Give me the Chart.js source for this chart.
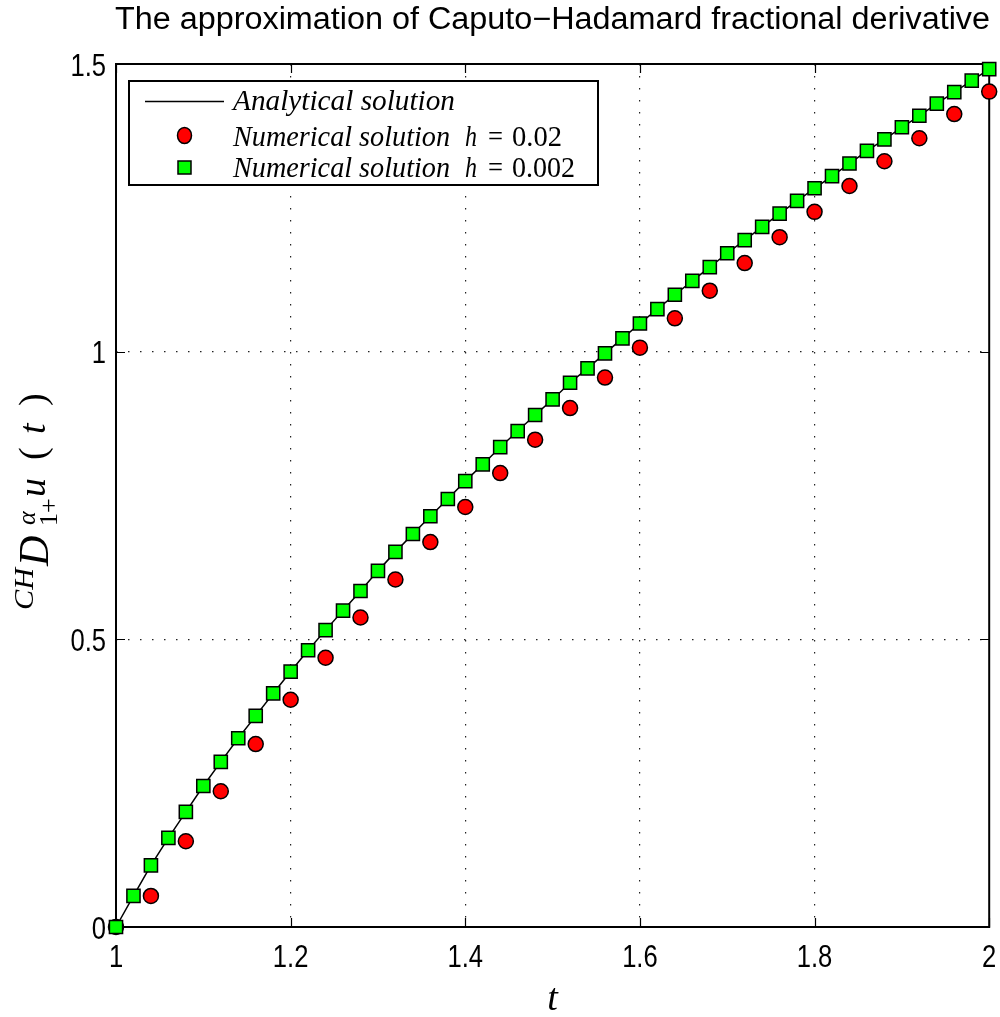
<!DOCTYPE html>
<html>
<head>
<meta charset="utf-8">
<script src="https://cdn.jsdelivr.net/npm/chart.js@4.4.0/dist/chart.umd.min.js"></script>
<style>
    body { margin: 0; background: #ffffff; }
    #wrap { width: 1000px; height: 1017px; }
</style>
</head>
<body>
<div id="wrap"><canvas id="chart" width="1000" height="1017"></canvas></div>
<script>
// 시간 t (h = 0.002 결과, 0.02 간격으로 표시)
const tFine = [1.00, 1.02, 1.04, 1.06, 1.08, 1.10, 1.12, 1.14, 1.16, 1.18,
    1.20, 1.22, 1.24, 1.26, 1.28, 1.30, 1.32, 1.34, 1.36, 1.38,
    1.40, 1.42, 1.44, 1.46, 1.48, 1.50, 1.52, 1.54, 1.56, 1.58,
    1.60, 1.62, 1.64, 1.66, 1.68, 1.70, 1.72, 1.74, 1.76, 1.78,
    1.80, 1.82, 1.84, 1.86, 1.88, 1.90, 1.92, 1.94, 1.96, 1.98, 2.00];
const uFine = [0.000, 0.054, 0.107, 0.155, 0.200, 0.245, 0.287, 0.328, 0.367, 0.406,
    0.444, 0.481, 0.516, 0.550, 0.584, 0.619, 0.652, 0.683, 0.714, 0.744,
    0.775, 0.804, 0.834, 0.862, 0.890, 0.917, 0.946, 0.971, 0.997, 1.023,
    1.049, 1.074, 1.099, 1.123, 1.147, 1.171, 1.194, 1.217, 1.240, 1.262,
    1.284, 1.305, 1.327, 1.349, 1.369, 1.390, 1.410, 1.431, 1.451, 1.471, 1.491];

// 해석해 (사각형 마커 위를 지나는 실선)
const tExact = tFine;
const uExact = [0.000, 0.054, 0.107, 0.155, 0.200, 0.245, 0.287, 0.328, 0.367, 0.406,
    0.444, 0.481, 0.516, 0.550, 0.584, 0.619, 0.652, 0.683, 0.714, 0.744,
    0.775, 0.804, 0.834, 0.862, 0.890, 0.917, 0.946, 0.971, 0.997, 1.023,
    1.049, 1.074, 1.099, 1.123, 1.147, 1.171, 1.194, 1.217, 1.240, 1.262,
    1.284, 1.305, 1.327, 1.349, 1.369, 1.390, 1.410, 1.431, 1.451, 1.471, 1.491];

// h = 0.02 결과 (0.04 간격으로 표시)
const tCoarse = [1.00, 1.04, 1.08, 1.12, 1.16, 1.20, 1.24, 1.28, 1.32, 1.36,
    1.40, 1.44, 1.48, 1.52, 1.56, 1.60, 1.64, 1.68, 1.72, 1.76,
    1.80, 1.84, 1.88, 1.92, 1.96, 2.00];
const uCoarse = [0.000, 0.054, 0.149, 0.236, 0.318, 0.395, 0.468, 0.538, 0.604, 0.669,
    0.730, 0.789, 0.847, 0.902, 0.955, 1.007, 1.058, 1.106, 1.154, 1.199,
    1.243, 1.288, 1.331, 1.371, 1.413, 1.452];

// 축 눈금
const xTicks = [1, 1.2, 1.4, 1.6, 1.8, 2];
const xTickLabels = ["1", "1.2", "1.4", "1.6", "1.8", "2"];
const yTicks = [0, 0.5, 1, 1.5];
const yTickLabels = ["0", "0.5", "1", "1.5"];

const titleText = "The approximation of Caputo\u2212Hadamard fractional derivative";
const SERIF = "'Liberation Serif', 'DejaVu Serif', serif";
const SANS = "'Liberation Sans', Arial, sans-serif";

// 가로 폭을 맞춰서 텍스트 그리기
function fitText(ctx, text, x, y, width, align) {
    const w = ctx.measureText(text).width;
    const s = width / w;
    ctx.save();
    ctx.translate(x, y);
    ctx.scale(s, 1);
    ctx.textAlign = align || "left";
    ctx.fillText(text, 0, 0);
    ctx.restore();
}

const decorPlugin = {
    id: "decor",
    beforeDatasetsDraw(chart) {
        const ctx = chart.ctx;
        const a = chart.chartArea;
        const xs = chart.scales.x;
        const ys = chart.scales.y;
        ctx.save();
        ctx.strokeStyle = "#000";
        ctx.lineWidth = 2;
        ctx.strokeRect(a.left, a.top, a.right - a.left, a.bottom - a.top);
        // 안쪽 눈금
        ctx.lineWidth = 1.2;
        ctx.beginPath();
        xTicks.forEach(v => {
            const px = Math.round(xs.getPixelForValue(v)) + 0.5;
            ctx.moveTo(px, a.bottom); ctx.lineTo(px, a.bottom - 9);
            ctx.moveTo(px, a.top); ctx.lineTo(px, a.top + 9);
        });
        yTicks.forEach(v => {
            const py = Math.round(ys.getPixelForValue(v)) + 0.5;
            ctx.moveTo(a.left, py); ctx.lineTo(a.left + 9, py);
            ctx.moveTo(a.right, py); ctx.lineTo(a.right - 9, py);
        });
        ctx.stroke();
        ctx.restore();
    },
    afterDraw(chart) {
        const ctx = chart.ctx;
        const a = chart.chartArea;
        const xs = chart.scales.x;
        const ys = chart.scales.y;
        ctx.save();
        ctx.fillStyle = "#000";
        ctx.textBaseline = "alphabetic";

        // 제목
        ctx.font = "31px " + SANS;
        fitText(ctx, titleText, 115, 29, 875);

        // 눈금 라벨
        ctx.font = "32px " + SANS;
        xTicks.forEach((v, i) => {
            const px = xs.getPixelForValue(v);
            const w = ctx.measureText(xTickLabels[i]).width * 0.8;
            fitText(ctx, xTickLabels[i], px, 967, w, "center");
        });
        yTicks.forEach((v, i) => {
            const py = ys.getPixelForValue(v);
            const w = ctx.measureText(yTickLabels[i]).width * 0.8;
            fitText(ctx, yTickLabels[i], 106, py + 11.5, w, "right");
        });

        // x축 라벨
        ctx.font = "italic 38px " + SERIF;
        ctx.textAlign = "center";
        ctx.fillText("t", (a.left + a.right) / 2, 1010);

        // y축 라벨 (회전)
        ctx.save();
        ctx.translate(45, 610);
        ctx.rotate(-Math.PI / 2);
        ctx.textAlign = "left";
        ctx.font = "italic 28px " + SERIF;
        fitText(ctx, "CH", 0, -12, 42);
        ctx.font = "italic 42px " + SERIF;
        ctx.fillText("D", 44, 3);
        ctx.font = "italic 26px " + SERIF;
        ctx.fillText("\u03b1", 85, -10);
        ctx.font = "26px " + SERIF;
        ctx.fillText("1+", 84, 12);
        ctx.font = "italic 38px " + SERIF;
        ctx.fillText("u", 113, 0);
        ctx.font = "38px " + SERIF;
        ctx.fillText("(", 150, 0);
        ctx.font = "italic 38px " + SERIF;
        ctx.fillText("t", 176, 0);
        ctx.font = "38px " + SERIF;
        ctx.fillText(")", 204, 0);
        ctx.restore();

        // 범례
        const lx = 129, ly = 81, lw = 469, lh = 104;
        ctx.fillStyle = "#fff";
        ctx.fillRect(lx, ly, lw, lh);
        ctx.strokeStyle = "#000";
        ctx.lineWidth = 2;
        ctx.strokeRect(lx, ly, lw, lh);
        ctx.lineWidth = 1.5;
        ctx.beginPath();
        ctx.moveTo(145, 101.5); ctx.lineTo(224, 101.5);
        ctx.stroke();
        ctx.beginPath();
        ctx.ellipse(184.5, 135.5, 7, 8, 0, 0, Math.PI * 2);
        ctx.fillStyle = "#ff0000";
        ctx.fill();
        ctx.stroke();
        ctx.fillStyle = "#00ff00";
        ctx.fillRect(178, 161, 13, 13);
        ctx.strokeRect(178, 161, 13, 13);

        ctx.fillStyle = "#000";
        ctx.font = "italic 30px " + SERIF;
        fitText(ctx, "Analytical solution", 233, 110, 222);
        fitText(ctx, "Numerical solution", 233, 146, 217);
        fitText(ctx, "h", 465, 146, 12);
        fitText(ctx, "Numerical solution", 233, 177, 217);
        fitText(ctx, "h", 465, 177, 12);
        ctx.font = "30px " + SERIF;
        fitText(ctx, "=", 488, 146, 15);
        fitText(ctx, "0.02", 512, 146, 50);
        fitText(ctx, "=", 488, 177, 15);
        fitText(ctx, "0.002", 512, 177, 63);
        ctx.restore();
    }
};

const ctx = document.getElementById("chart").getContext("2d");
new Chart(ctx, {
    type: "scatter",
    data: {
        datasets: [
            {
                label: "Numerical solution h = 0.002",
                data: tFine.map((t, i) => ({ x: t, y: uFine[i] })),
                pointStyle: "rect",
                pointRadius: 9.3,
                backgroundColor: "#00ff00",
                borderColor: "#000000",
                borderWidth: 1.5,
                clip: false,
                order: 1
            },
            {
                label: "Numerical solution h = 0.02",
                data: tCoarse.map((t, i) => ({ x: t, y: uCoarse[i] })),
                pointStyle: "circle",
                pointRadius: 7.5,
                backgroundColor: "#ff0000",
                borderColor: "#000000",
                borderWidth: 1.5,
                clip: false,
                order: 2
            },
            {
                label: "Analytical solution",
                data: tExact.map((t, i) => ({ x: t, y: uExact[i] })),
                showLine: true,
                pointRadius: 0,
                borderColor: "#000000",
                borderWidth: 1.5,
                clip: false,
                order: 3
            }
        ]
    },
    options: {
        responsive: false,
        animation: false,
        devicePixelRatio: 1,
        layout: { padding: { left: 0, right: 10, top: 64, bottom: 0 } },
        plugins: {
            legend: { display: false },
            title: { display: false },
            tooltip: { enabled: false }
        },
        scales: {
            x: {
                type: "linear",
                min: 1,
                max: 2,
                ticks: { display: false, stepSize: 0.2 },
                grid: {
                    drawTicks: false,
                    lineWidth: 1.2,
                    color: c => (c.tick && (c.tick.value <= 1.0001 || c.tick.value >= 1.9999)) ? "rgba(0,0,0,0)" : "#222"
                },
                border: { display: false, dash: [1.5, 10.5] },
                afterFit: s => { s.height = 90; }
            },
            y: {
                type: "linear",
                min: 0,
                max: 1.5,
                ticks: { display: false, stepSize: 0.5 },
                grid: {
                    drawTicks: false,
                    lineWidth: 1.2,
                    color: c => (c.tick && (c.tick.value <= 0.0001 || c.tick.value >= 1.4999)) ? "rgba(0,0,0,0)" : "#222"
                },
                border: { display: false, dash: [1.5, 10.5] },
                afterFit: s => { s.width = 116; }
            }
        }
    },
    plugins: [decorPlugin]
});
</script>
</body>
</html>
